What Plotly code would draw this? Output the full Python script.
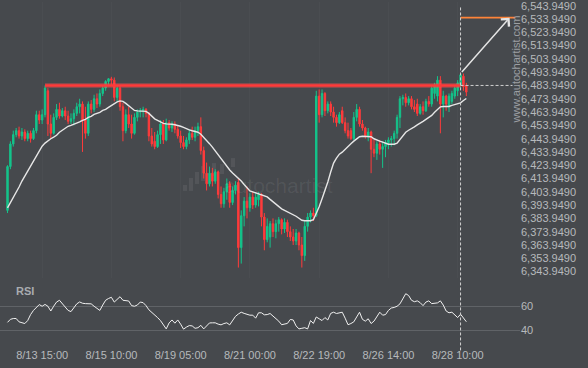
import plotly.graph_objects as go

# ---------------- data ----------------
tick_bars = [12, 36, 60, 84, 108, 132, 156]
tick_labels = ["8/13 15:00", "8/15 10:00", "8/19 05:00", "8/21 00:00",
               "8/22 19:00", "8/26 14:00", "8/28 10:00"]

price_ticks = [6343.949, 6353.949, 6363.949, 6373.949, 6383.949, 6393.949,
               6403.949, 6413.949, 6423.949, 6433.949, 6443.949, 6453.949,
               6463.949, 6473.949, 6483.949, 6493.949, 6503.949, 6513.949,
               6523.949, 6533.949, 6543.949]
rsi_ticks = [40, 60]

opens = [6390, 6423, 6440, 6447, 6450, 6446, 6449, 6444, 6448, 6444,
         6450, 6462, 6458, 6462, 6480, 6455, 6448, 6460, 6466, 6461,
         6465, 6461, 6457, 6459, 6463, 6468, 6470, 6458, 6448, 6470,
         6466, 6474, 6470, 6478, 6482, 6487, 6489, 6488, 6475, 6482,
         6468, 6450, 6462, 6455, 6448, 6460, 6464, 6465, 6466, 6463,
         6446, 6442, 6438, 6447, 6455, 6443, 6456, 6452, 6455, 6451,
         6446, 6441, 6438, 6443, 6448, 6445, 6450, 6453, 6435, 6418,
         6410, 6418, 6412, 6419, 6402, 6395, 6404, 6410, 6396, 6405,
         6411, 6362, 6386, 6397, 6392, 6400, 6394, 6398, 6402, 6385,
         6368, 6370, 6380, 6374, 6380, 6383, 6376, 6381, 6374, 6370,
         6367, 6373, 6364, 6356, 6378, 6385, 6388, 6386, 6476, 6462,
         6478, 6465, 6470, 6464, 6460, 6456, 6465, 6456, 6450, 6450,
         6444, 6460, 6466, 6455, 6452, 6446, 6449, 6436, 6433, 6440,
         6436, 6438, 6441, 6443, 6444, 6448, 6460, 6474, 6475, 6471,
         6474, 6468, 6470, 6463, 6468, 6465, 6472, 6470, 6478, 6476,
         6488, 6470, 6476, 6468, 6472, 6476, 6480, 6484, 6491, 6484]
highs = [6424, 6442, 6450, 6452, 6453, 6452, 6451, 6450, 6450, 6452,
         6465, 6465, 6466, 6484, 6482, 6462, 6463, 6470, 6471, 6467,
         6468, 6465, 6463, 6466, 6471, 6474, 6472, 6468, 6472, 6473,
         6477, 6478, 6481, 6484, 6488, 6489.5, 6490.5, 6490, 6484, 6484,
         6471, 6466, 6468, 6462, 6463, 6466, 6467, 6468, 6467, 6464,
         6452, 6449, 6450, 6458, 6458, 6459, 6458, 6457, 6457, 6454,
         6450, 6446, 6445, 6451, 6453, 6453, 6456, 6460, 6438, 6426,
         6423, 6422, 6421, 6420, 6408, 6407, 6414, 6412, 6408, 6412,
         6414, 6390, 6400, 6408, 6403, 6404, 6403, 6404, 6403, 6388,
         6384, 6382, 6384, 6383, 6385, 6384, 6384, 6383, 6378, 6376,
         6376, 6374, 6370, 6382, 6388, 6390, 6392, 6480, 6481, 6481,
         6479, 6472, 6472, 6468, 6462, 6464, 6468, 6460, 6456, 6452,
         6464, 6470, 6468, 6458, 6453, 6452, 6450, 6443, 6442, 6443,
         6442, 6443, 6445, 6446, 6450, 6462, 6476, 6477, 6478, 6476,
         6476, 6473, 6474, 6470, 6472, 6474, 6476, 6484, 6486, 6491,
         6491, 6480, 6477, 6478, 6480, 6484, 6488, 6493, 6493, 6486]
lows = [6388, 6421, 6438, 6445, 6444, 6443, 6442, 6442, 6441, 6443,
        6448, 6455, 6455, 6460, 6446, 6444, 6447, 6458, 6459, 6460,
        6458, 6455, 6455, 6454, 6461, 6463, 6434, 6444, 6446, 6463,
        6464, 6467, 6468, 6476, 6480, 6484, 6484, 6472, 6472, 6465,
        6442, 6448, 6452, 6444, 6447, 6457, 6460, 6460, 6460, 6442,
        6438, 6436, 6437, 6440, 6440, 6442, 6450, 6449, 6448, 6444,
        6437, 6436, 6436, 6440, 6443, 6442, 6446, 6432, 6414, 6405,
        6408, 6408, 6410, 6399, 6392, 6392, 6398, 6392, 6394, 6402,
        6347, 6350, 6378, 6384, 6389, 6391, 6392, 6393, 6378, 6360,
        6366, 6362, 6370, 6369, 6374, 6372, 6373, 6370, 6367, 6364,
        6364, 6360, 6347, 6352, 6374, 6381, 6382, 6385, 6456, 6460,
        6461, 6463, 6461, 6456, 6453, 6455, 6455, 6448, 6444, 6443,
        6443, 6457, 6453, 6450, 6444, 6442, 6418, 6430, 6428, 6432,
        6422, 6430, 6436, 6438, 6439, 6444, 6452, 6469, 6468, 6469,
        6466, 6464, 6461, 6462, 6462, 6464, 6468, 6468, 6474, 6472,
        6448, 6460, 6465, 6464, 6470, 6474, 6476, 6481, 6480, 6476]
closes = [6423, 6440, 6447, 6450, 6446, 6449, 6444, 6448, 6444, 6450,
          6462, 6458, 6462, 6482, 6455, 6448, 6460, 6466, 6461, 6465,
          6461, 6457, 6459, 6463, 6468, 6470, 6458, 6448, 6470, 6466,
          6474, 6470, 6478, 6482, 6487, 6489, 6488, 6475, 6482, 6468,
          6450, 6462, 6455, 6448, 6460, 6464, 6465, 6466, 6463, 6446,
          6440, 6438, 6447, 6455, 6443, 6456, 6452, 6455, 6451, 6446,
          6441, 6438, 6443, 6448, 6445, 6450, 6453, 6435, 6418, 6410,
          6418, 6412, 6419, 6402, 6395, 6404, 6410, 6396, 6405, 6409,
          6362, 6386, 6397, 6392, 6400, 6394, 6400, 6402, 6385, 6368,
          6378, 6380, 6374, 6380, 6383, 6376, 6381, 6374, 6370, 6367,
          6373, 6364, 6356, 6378, 6385, 6388, 6386, 6476, 6462, 6478,
          6465, 6470, 6464, 6460, 6456, 6462, 6456, 6450, 6446, 6444,
          6460, 6466, 6455, 6452, 6446, 6449, 6436, 6433, 6440, 6436,
          6438, 6441, 6443, 6444, 6448, 6460, 6474, 6475, 6471, 6474,
          6468, 6466, 6463, 6468, 6465, 6472, 6470, 6482, 6484, 6488,
          6470, 6476, 6470, 6476, 6478, 6482, 6486, 6492, 6483, 6479]
moving_avg = [6391.9, 6395.7, 6400.2, 6403.9, 6407.6, 6412.1, 6415.9, 6419.6, 6422.6, 6426.4,
              6430.9, 6434.6, 6438.3, 6440.6, 6442.4, 6443.9, 6445.1, 6446.5, 6448.8, 6450.3,
              6451.8, 6453.3, 6454.0, 6454.8, 6455.5, 6456.6, 6457.8, 6458.5, 6460.0, 6460.8,
              6462.3, 6463.0, 6463.8, 6465.2, 6466.0, 6467.5, 6469.0, 6470.5, 6471.6, 6472.4,
              6472.0, 6470.5, 6468.6, 6466.7, 6465.2, 6464.9, 6464.9, 6464.9, 6464.5, 6463.0,
              6460.8, 6458.9, 6457.8, 6456.6, 6455.5, 6455.1, 6455.1, 6454.8, 6454.4, 6454.0,
              6453.3, 6452.5, 6451.4, 6450.6, 6449.9, 6449.5, 6448.8, 6447.3, 6445.1, 6442.8,
              6440.2, 6437.6, 6434.6, 6431.6, 6428.6, 6425.6, 6422.6, 6420.4, 6418.1, 6416.3,
              6414.4, 6412.1, 6409.5, 6406.9, 6404.6, 6403.9, 6403.2, 6402.4, 6402.1, 6401.3,
              6400.2, 6398.3, 6396.4, 6394.6, 6392.7, 6391.2, 6390.1, 6389.0, 6388.2, 6387.1,
              6385.6, 6384.1, 6382.6, 6382.2, 6382.2, 6382.2, 6383.0, 6387.5, 6392.7, 6398.7,
              6404.6, 6411.4, 6418.9, 6425.6, 6429.3, 6432.3, 6433.8, 6436.1, 6438.3, 6440.2,
              6442.1, 6443.6, 6445.4, 6445.8, 6445.8, 6445.8, 6445.4, 6443.9, 6442.8, 6442.1,
              6441.3, 6440.6, 6439.8, 6439.8, 6439.8, 6440.6, 6443.6, 6446.5, 6448.8, 6450.3,
              6451.4, 6452.9, 6454.4, 6455.5, 6457.0, 6458.5, 6460.0, 6461.5, 6463.8, 6466.0,
              6467.9, 6468.2, 6468.2, 6468.2, 6469.0, 6469.7, 6470.5, 6470.9, 6472.7, 6474.2]
rsi = [46.5, 49, 49.7, 49.7, 46.9, 46.5, 45.5, 48, 53, 56.5,
       59, 61.4, 60, 61.5, 60, 56, 60, 63.5, 65, 62,
       59.5, 56.5, 55.5, 59, 62, 63.6, 62.5, 62.2, 62.2, 62,
       60, 58, 56.5, 61, 65, 66.5, 67.5, 63.5, 65.5, 68,
       65, 64.8, 64.4, 60.5, 60, 61, 63.5, 63, 60.5, 57,
       55, 52.5, 50.5, 48, 44, 41, 46, 48.5, 45.8, 48.5,
       45, 40.8, 42.5, 43.8, 43.5, 41.5, 42, 44, 41, 43.5,
       46, 46.1, 46.1, 45, 44.4, 45.5, 46.1, 44.4, 48, 51.5,
       53.5, 55, 54, 53, 52.5, 52.5, 50, 54.5, 54.5, 52.8,
       53, 53.9, 52, 50, 47.5, 44.5, 45, 45.6, 48.9, 48.5,
       43.5, 41, 41.5, 42, 41, 48, 45.6, 51, 49.5, 48,
       50.5, 48.5, 54, 55, 53.9, 54.5, 55, 50, 44.5, 45.5,
       46.9, 51, 55, 49, 47.5, 49.5, 45.5, 47.5, 51, 55,
       52.5, 53, 56.5, 58.5, 59, 60, 62, 66, 70.5, 69,
       65, 63.8, 64.5, 63, 60.5, 63.5, 64.5, 62.2, 62.2, 62.8,
       64.5, 61, 56, 54.5, 55, 53, 50.5, 53.3, 49.7, 47]

resistance_level = 6484.0
resistance_start_bar = 13
signal_bar = 157
signal_price = 6493.0
target_level = 6535.0
arrow_end_bar = 174
projection_end_bar = 176
price_line_end_bar = 175

bars = list(range(len(opens)))

# ---------------- style ----------------
BG = "#46494d"
TICK = "#b6b9bc"
GREEN = "#14c48b"
RED = "#ff3b3b"
FONT = "Liberation Sans, Arial, sans-serif"

PLOT_H = 347.0
main_dom = [1 - 278 / PLOT_H, 1]
rsi_dom = [0, 67 / PLOT_H]
XR = [-2.6, 177.6]

fig = go.Figure()
fig.add_trace(go.Candlestick(
    x=bars, open=opens, high=highs, low=lows, close=closes,
    xaxis="x", yaxis="y",
    increasing=dict(line=dict(color=GREEN, width=1), fillcolor=GREEN),
    decreasing=dict(line=dict(color=RED, width=1), fillcolor=RED),
    whiskerwidth=0, showlegend=False, hoverinfo="skip"))
fig.add_trace(go.Scatter(x=bars, y=moving_avg, mode="lines",
                         line=dict(color="#e6e6e6", width=1.4),
                         xaxis="x", yaxis="y", showlegend=False, hoverinfo="skip"))
fig.add_trace(go.Scatter(x=bars, y=rsi, mode="lines",
                         line=dict(color="#f0f0f0", width=1),
                         xaxis="x2", yaxis="y2", showlegend=False, hoverinfo="skip"))

shapes = []
# watermark icon (faint bars)
icon = [(183, 187, 184, 190), (189, 193, 177, 190), (195, 199, 171, 183),
        (201, 205, 165, 180), (212, 216, 162, 175), (220, 224, 163, 173),
        (231, 235, 157, 166)]
for x0, x1, y0, y1 in icon:
    shapes.append(dict(type="rect", xref="paper", yref="paper",
                       x0=x0 / 520, x1=x1 / 520, y0=1 - y1 / PLOT_H, y1=1 - y0 / PLOT_H,
                       fillcolor="rgba(255,255,255,0.07)", line=dict(width=0), layer="below"))
# resistance line (with glow)
shapes.append(dict(type="line", xref="x", yref="y", x0=resistance_start_bar, x1=signal_bar,
                   y0=resistance_level, y1=resistance_level,
                   line=dict(color="rgba(255,80,80,0.35)", width=5)))
shapes.append(dict(type="line", xref="x", yref="y", x0=resistance_start_bar, x1=signal_bar,
                   y0=resistance_level, y1=resistance_level,
                   line=dict(color="#ff3a3a", width=2.5)))
# current-price dashed line
shapes.append(dict(type="line", xref="x", yref="y", x0=signal_bar, x1=price_line_end_bar,
                   y0=resistance_level, y1=resistance_level,
                   line=dict(color="#d2d2d2", width=1, dash="3px,2px")))
# target line
shapes.append(dict(type="line", xref="x", yref="y", x0=signal_bar, x1=projection_end_bar,
                   y0=target_level, y1=target_level,
                   line=dict(color="#ff8438", width=1.8)))
# vertical dashed line
shapes.append(dict(type="line", xref="x", yref="paper", x0=signal_bar, x1=signal_bar,
                   y0=-0.01, y1=0.988,
                   line=dict(color="#d2d2d2", width=1, dash="3px,2px")))

annotations = [
    dict(xref="x", yref="y", axref="x", ayref="y", x=arrow_end_bar, y=target_level,
         ax=signal_bar, ay=signal_price, text="", showarrow=True, arrowhead=4,
         arrowsize=1.4, arrowwidth=1.5, arrowcolor="#e4e4e4", standoff=0, startstandoff=0),
    dict(xref="paper", yref="paper", x=14 / 520, y=1 - 291 / PLOT_H, xanchor="left",
         yanchor="middle", text="<b>RSI</b>", showarrow=False,
         font=dict(family=FONT, size=11, color="#a9acb0")),
    dict(xref="paper", yref="paper", x=516 / 520, y=1 - 68 / PLOT_H, xanchor="center",
         yanchor="middle", text="www.autochartist.com", textangle=-90, showarrow=False,
         font=dict(family=FONT, size=11, color="#9c9fa3")),
    dict(xref="paper", yref="paper", x=278 / 520, y=1 - 185 / PLOT_H, xanchor="center",
         yanchor="middle", text="autochartist", showarrow=False,
         font=dict(family=FONT, size=21, color="rgba(255,255,255,0.08)")),
]

fig.update_layout(
    width=588, height=368,
    margin=dict(l=0, r=68, t=0, b=21, pad=0),
    paper_bgcolor=BG, plot_bgcolor=BG, showlegend=False,
    font=dict(family=FONT, size=11, color=TICK),
    xaxis=dict(domain=[0, 1], anchor="y", range=XR, tickvals=tick_bars,
               showticklabels=False, ticks="", showgrid=True, gridcolor="#4a4d51",
               gridwidth=1, zeroline=False, showline=False,
               rangeslider=dict(visible=False)),
    xaxis2=dict(domain=[0, 1], anchor="y2", matches="x", range=XR, tickvals=tick_bars,
                ticktext=tick_labels, ticks="", showgrid=False, zeroline=False,
                showline=False, tickfont=dict(family=FONT, size=11, color=TICK)),
    yaxis=dict(domain=main_dom, anchor="x", side="right", range=[6338.85, 6546.78],
               tickvals=price_ticks, tickformat=",.4f", ticks="", showgrid=False,
               zeroline=False, showline=False, ticklabeloverflow="allow",
               tickfont=dict(family=FONT, size=11, color=TICK)),
    yaxis2=dict(domain=rsi_dom, anchor="x2", side="right", range=[25.83, 81.67],
                tickvals=rsi_ticks, ticks="", showgrid=True, gridcolor="#606367",
                gridwidth=1, zeroline=False, showline=False,
                tickfont=dict(family=FONT, size=11, color=TICK)),
    shapes=shapes, annotations=annotations,
)

fig.write_html("out.html",
               config={"displayModeBar": False, "staticPlot": True},
               post_script="document.body.style.margin='0';"
                           "document.body.style.background='" + BG + "';")
